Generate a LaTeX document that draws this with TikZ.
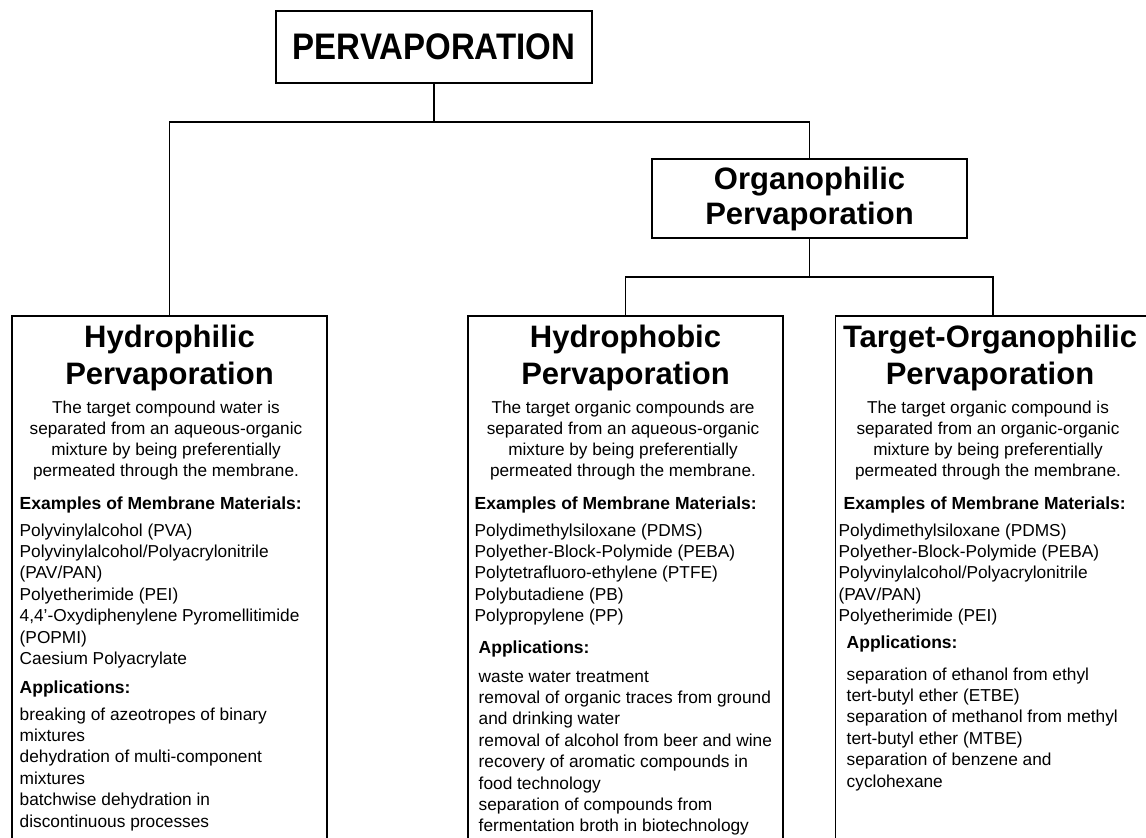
\documentclass[tikz,border=0pt]{standalone}
\usepackage{fontspec}
\setmainfont{Liberation Sans}

\begin{document}
\begin{tikzpicture}[x=1pt,y=-1pt,line width=1.4pt,
  box/.style={draw,inner sep=0pt,outer sep=0pt},
  panel/.style={box,anchor=north,minimum width=315,minimum height=560},
  ttl/.style={anchor=base,align=center,inner sep=0pt,font=\bfseries\fontsize{31}{37}\selectfont},
  blurb/.style={anchor=base,align=center,inner sep=0pt,font=\fontsize{17.2}{21}\selectfont},
  hdr/.style={anchor=base west,inner sep=0pt,font=\bfseries\fontsize{17.5}{21}\selectfont},
  items/.style={anchor=base west,align=left,inner sep=0pt,font=\fontsize{17.3}{21.4}\selectfont}]

\useasboundingbox (0,0) rectangle (1146,838);
\clip (0,0) rectangle (1146,838);

\node[box,minimum width=316,minimum height=72,font=\bfseries\fontsize{33}{40}\selectfont] (perv) at (434,47) {\scalebox{1}[1.12]{PERVAPORATION}};
\node[box,minimum width=315,minimum height=79,align=center,font=\bfseries\fontsize{31}{35}\selectfont] (organo) at (809.5,198.5) {Organophilic\\Pervaporation};

\node[panel] (hphil) at (169.5,316) {};
\node[panel] (hphob) at (625.5,316) {};
\node[panel] (torg) at (993,316) {};

\coordinate (j1) at (434,122);
\coordinate (j2) at (809.5,277);

\draw (perv) -- (j1);
\draw (hphil.north) -- (hphil.north |- j1) -- (organo.north |- j1) -- (organo.north);
\draw (organo) -- (j2);
\draw (hphob.north) -- (hphob.north |- j2) -- (torg.north |- j2) -- (torg.north);

% multi-line nodes sit on the baseline of their last line
\node[ttl] (hphil-t) at (169.5,384) {Hydrophilic\\Pervaporation};
\node[blurb] (hphil-d) at (166,476) {The target compound water is\\separated from an aqueous-organic\\mixture by being preferentially\\permeated through the membrane.};
\node[hdr] (hphil-mh) at (19,509) {Examples of Membrane Materials:};
\node[items] (hphil-m) at (19,664.4) {Polyvinylalcohol (PVA)\\Polyvinylalcohol/Polyacrylonitrile\\(PAV/PAN)\\Polyetherimide (PEI)\\4,4'-Oxydiphenylene Pyromellitimide\\(POPMI)\\Caesium Polyacrylate};
\node[hdr] (hphil-ah) at (19,693) {Applications:};
\node[items] (hphil-a) at (19,827) {breaking of azeotropes of binary\\mixtures\\dehydration of multi-component\\mixtures\\batchwise dehydration in\\discontinuous processes};

\node[ttl] (hphob-t) at (625.5,384) {Hydrophobic\\Pervaporation};
\node[blurb] (hphob-d) at (623,476) {The target organic compounds are\\separated from an aqueous-organic\\mixture by being preferentially\\permeated through the membrane.};
\node[hdr] (hphob-mh) at (474,509) {Examples of Membrane Materials:};
\node[items] (hphob-m) at (474,621.6) {Polydimethylsiloxane (PDMS)\\Polyether-Block-Polymide (PEBA)\\Polytetrafluoro-ethylene (PTFE)\\Polybutadiene (PB)\\Polypropylene (PP)};
\node[hdr] (hphob-ah) at (478,653) {Applications:};
\node[items] (hphob-a) at (478,831.8) {waste water treatment\\removal of organic traces from ground\\and drinking water\\removal of alcohol from beer and wine\\recovery of aromatic compounds in\\food technology\\separation of compounds from\\fermentation broth in biotechnology};

\node[ttl] (torg-t) at (990,384) {Target-Organophilic\\Pervaporation};
\node[blurb] (torg-d) at (988,476) {The target organic compound is\\separated from an organic-organic\\mixture by being preferentially\\permeated through the membrane.};
\node[hdr] (torg-mh) at (843,509) {Examples of Membrane Materials:};
\node[items] (torg-m) at (838,621.6) {Polydimethylsiloxane (PDMS)\\Polyether-Block-Polymide (PEBA)\\Polyvinylalcohol/Polyacrylonitrile\\(PAV/PAN)\\Polyetherimide (PEI)};
\node[hdr] (torg-ah) at (846,648) {Applications:};
\node[items] (torg-a) at (846,787) {separation of ethanol from ethyl\\tert-butyl ether (ETBE)\\separation of methanol from methyl\\tert-butyl ether (MTBE)\\separation of benzene and\\cyclohexane};

\end{tikzpicture}
\end{document}
